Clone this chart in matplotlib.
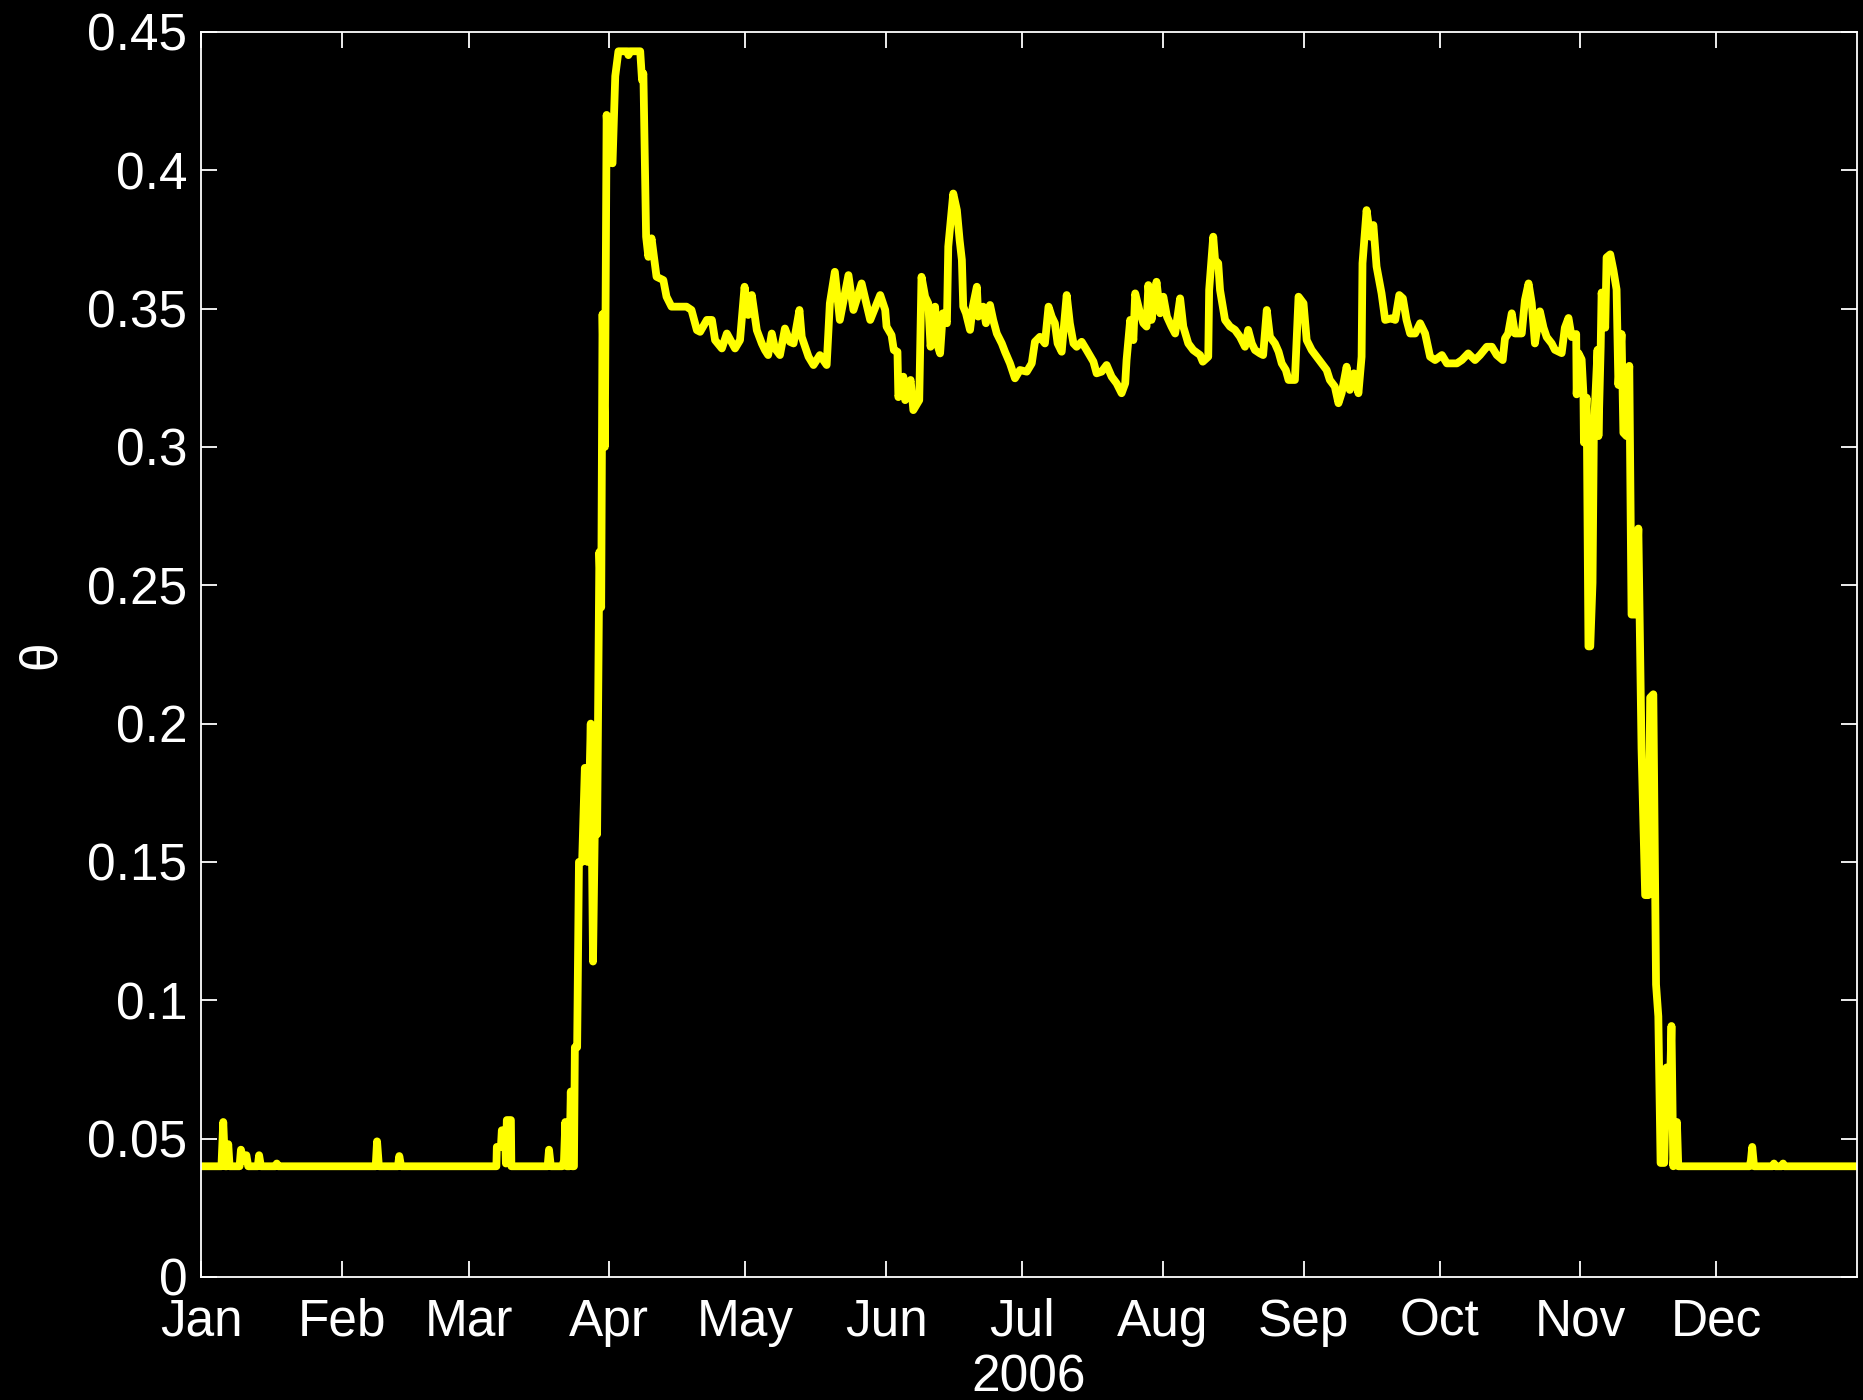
import numpy as np
import pandas as pd
import matplotlib
matplotlib.use("Agg")
import matplotlib.pyplot as plt

# Soil moisture (theta) through 2006; x is days since 1 Jan 2006
days = [
    0, 4.5, 4.9, 5.3, 5.7, 6.0, 6.3, 8.5, 8.8, 9.3, 10.0, 10.4, 12.5, 12.8, 13.2,
    16.4, 16.7, 17.0, 38.5, 38.8, 39.2, 43.4, 43.7, 44.1, 65.1, 65.2, 66.1, 66.3,
    67.0, 67.2, 67.4, 68.3, 68.4, 76.4, 76.7, 77.1, 79.6, 80.0, 80.3, 80.6, 81.2,
    81.5, 81.8, 82.2, 82.4,
    82.9, 83.3, 84.0, 84.6, 85.2, 85.9, 86.4, 86.9, 87.3, 87.8, 88.2, 88.5, 89.0,
    89.4, 90.0, 90.7, 91.3, 92.0, 94.0, 94.2, 94.6, 96.8, 97.2, 97.5, 98.1, 98.6,
    99.3, 100.4, 101.9, 102.6, 103.7, 107.0, 108.1, 109.3, 110.0, 111.5, 112.6,
    113.3, 114.8, 115.9, 117.7, 118.8, 119.8, 120.6, 121.4, 122.5, 123.6, 124.3,
    125.0, 125.8, 126.5, 127.6, 128.7, 129.8, 130.6, 131.9, 132.4, 133.9, 135.0,
    136.4, 137.9, 138.6, 139.7, 140.8, 142.7, 143.8, 145.6, 147.5, 149.7,
    150.8, 151.1, 152.2, 152.7, 153.5, 153.7, 154.8, 155.2, 156.4, 157.0, 158.3,
    158.8, 159.6, 160.3, 160.8, 161.8, 162.2, 162.9, 163.5, 164.4, 164.7, 165.8,
    166.6, 167.2, 167.7, 168.0, 168.6, 169.5, 170.1, 171.0, 171.3, 172.4, 173.0,
    173.9, 174.6, 175.4, 176.5, 177.2, 178.3, 179.4, 180.5, 182.0, 183.1, 183.8,
    184.9, 186.0, 186.8, 187.5, 188.2, 188.8, 189.7, 190.8, 191.5, 192.3, 193.0,
    194.1, 195.2, 196.7, 197.4, 198.5, 199.6, 200.7, 201.8, 202.9, 203.7, 204.0,
    204.8, 205.5, 205.9, 206.8, 207.7, 208.4, 208.8, 209.5, 210.6, 211.4, 212.1,
    212.9, 213.9, 214.7, 215.8, 216.5, 217.6, 218.7, 220.2, 220.8, 222.0, 222.2,
    223.1, 223.5, 224.2, 224.6, 225.7, 226.8, 227.9, 229.0, 230.1, 230.8, 231.6,
    232.3, 233.4, 234.1, 234.9, 235.6, 236.7, 237.5, 238.2, 239.1, 239.7, 241.1,
    241.9, 243.0, 243.7, 244.8, 245.9, 247.0, 248.1, 248.8, 249.9, 250.7, 251.4,
    252.5, 253.2, 254.1, 255.1, 255.8, 256.0, 256.9, 257.7, 258.4, 259.1, 260.2,
    261.0, 262.4, 263.2, 264.1, 264.9, 265.7, 266.5, 267.6, 268.7, 269.8, 270.9,
    272.0, 273.5, 274.6, 276.8, 277.9, 279.3, 280.8, 281.9, 283.4, 284.5, 285.6,
    286.9, 287.4, 288.1, 288.9, 289.6, 291.1, 291.8, 292.6, 293.3, 294.0,
    295.1, 295.9, 296.6, 297.7, 298.4, 299.9, 300.6, 301.4, 302.1, 303.1, 303.2,
    303.6, 304.3, 304.7, 304.8, 305.4, 305.8, 306.2, 306.7, 307.0, 307.8, 308.0,
    308.5, 308.7, 309.5, 309.8, 310.6, 311.3, 312.0, 312.4, 313.1, 313.5, 314.2,
    314.8, 315.3, 316.1, 316.8, 317.5, 318.3, 319.0, 319.4, 320.1, 320.7, 321.2,
    321.7, 322.5, 323.0, 323.6, 324.1, 324.5, 325.3, 325.6, 341.3, 341.6, 341.9,
    342.3, 346.4, 346.7, 347.0, 348.4, 348.7, 349.0, 365.0,
]
theta = [
    0.04, 0.04, 0.056, 0.04, 0.04, 0.048, 0.04, 0.04, 0.046, 0.042, 0.044, 0.04,
    0.04, 0.044, 0.04, 0.04, 0.041, 0.04, 0.04, 0.049, 0.04, 0.04, 0.0437, 0.04,
    0.04, 0.047, 0.047, 0.053, 0.053, 0.041, 0.0567, 0.0567, 0.04,
    0.04, 0.046, 0.04, 0.04, 0.042, 0.056, 0.04,
    0.04, 0.067, 0.04, 0.04, 0.083, 0.083, 0.15, 0.15, 0.184, 0.15, 0.20, 0.114,
    0.175, 0.16, 0.262, 0.242, 0.348, 0.30, 0.42, 0.403, 0.4025, 0.434, 0.443,
    0.443, 0.4416, 0.443, 0.443, 0.4326, 0.435, 0.376, 0.3687, 0.3754, 0.3615,
    0.3603, 0.3543, 0.3507, 0.3507, 0.3495, 0.3422, 0.3416, 0.3459, 0.3459,
    0.3386, 0.3356, 0.341, 0.3356, 0.3386, 0.3579, 0.3477, 0.3549, 0.3422,
    0.3374, 0.335, 0.3332, 0.341, 0.3356, 0.3332, 0.3428, 0.338, 0.3374, 0.3495,
    0.3398, 0.3326, 0.3296, 0.3332, 0.3296, 0.3519, 0.3633, 0.3459, 0.3621,
    0.3495, 0.3591, 0.3459, 0.3549,
    0.3495, 0.3435, 0.3404, 0.335, 0.3344, 0.318, 0.3254, 0.3169, 0.3242, 0.3133,
    0.3169, 0.3615, 0.3543, 0.3519, 0.3362, 0.3507, 0.3374, 0.3338, 0.3483,
    0.3447, 0.3724, 0.3916, 0.3856, 0.3748, 0.3676, 0.3507, 0.3483, 0.3423,
    0.3507, 0.3579, 0.3471, 0.3507, 0.3447, 0.3513, 0.3459, 0.341, 0.3374,
    0.3344, 0.3302, 0.3248, 0.3278, 0.3272, 0.3302, 0.338, 0.3398, 0.3374,
    0.3507, 0.3471, 0.3447, 0.3374, 0.3344, 0.3549, 0.3447, 0.3374, 0.3362,
    0.338, 0.335, 0.3308, 0.3266, 0.3272, 0.3296, 0.3254, 0.323, 0.3194, 0.323,
    0.3314, 0.3459, 0.3386, 0.3555, 0.3495, 0.3447, 0.3435, 0.3585, 0.3459,
    0.3597, 0.3483, 0.3543, 0.3471, 0.3435, 0.341, 0.3537, 0.3435, 0.3374,
    0.335, 0.3332, 0.3308, 0.3326, 0.3567, 0.376,
    0.3676, 0.3664, 0.3567, 0.3459, 0.3435, 0.3423, 0.3398, 0.3362, 0.3423,
    0.3374, 0.335, 0.3338, 0.3332, 0.3495, 0.3398, 0.3374, 0.3344, 0.3302,
    0.3278, 0.3242, 0.3242, 0.3543, 0.3519, 0.3386, 0.335, 0.3326, 0.3302,
    0.3278, 0.3242, 0.3218, 0.3158, 0.3194, 0.329, 0.3206, 0.3266, 0.3194,
    0.3326, 0.3664, 0.3856, 0.376, 0.3802, 0.3652, 0.3555, 0.3459, 0.3465,
    0.3459, 0.3549, 0.3537, 0.3459, 0.341, 0.341, 0.3447, 0.341, 0.3326, 0.3314,
    0.3332, 0.3302, 0.3302, 0.3314, 0.3338, 0.3314, 0.3332, 0.3362, 0.3362,
    0.3332, 0.3314, 0.3392, 0.341, 0.3483, 0.341, 0.341, 0.3531, 0.3591, 0.3519,
    0.3374,
    0.349, 0.3431, 0.3397, 0.3374, 0.3351, 0.3339, 0.3431, 0.3466, 0.3397,
    0.3408, 0.319, 0.3339, 0.3316, 0.319, 0.3016, 0.3178, 0.2279, 0.2279, 0.2509,
    0.3062, 0.3351, 0.3039, 0.3362, 0.3558, 0.3431, 0.3685, 0.3696, 0.3639,
    0.3569, 0.3224, 0.3408, 0.3051, 0.3039, 0.3293, 0.2394, 0.2394, 0.2705,
    0.191, 0.138, 0.138, 0.2094, 0.2106, 0.1057, 0.0942, 0.0412, 0.0412, 0.0757,
    0.0573, 0.0907, 0.04, 0.056, 0.04, 0.04, 0.042, 0.047, 0.04, 0.04, 0.041,
    0.04, 0.04, 0.041, 0.04, 0.04,
]

year_start = "2006-01-01"
month_labels = ["Jan", "Feb", "Mar", "Apr", "May", "Jun",
                "Jul", "Aug", "Sep", "Oct", "Nov", "Dec"]
y_ticks = [0, 0.05, 0.1, 0.15, 0.2, 0.25, 0.3, 0.35, 0.4, 0.45]
y_tick_labels = ["0", "0.05", "0.1", "0.15", "0.2", "0.25", "0.3", "0.35", "0.4", "0.45"]

plt.rcParams["font.family"] = ["Liberation Sans", "DejaVu Sans"]

t0 = pd.Timestamp(year_start)
times = t0 + pd.to_timedelta(np.asarray(days), unit="D")
month_starts = pd.date_range(year_start, periods=12, freq="MS")

fig = plt.figure(figsize=(18.63, 14.0), dpi=100, facecolor="black")
ax = fig.add_axes([0.1079, 0.0879, 0.8889, 0.8893], facecolor="black")

ax.plot(times, theta, color=(1.0, 1.0, 0.0), linewidth=5.6,
        solid_joinstyle="round", solid_capstyle="round")

ax.set_xlim(t0, t0 + pd.Timedelta(days=365))
ax.set_ylim(0, 0.45)
ax.set_xticks(month_starts)
ax.set_xticklabels(month_labels)
ax.set_yticks(y_ticks)
ax.set_yticklabels(y_tick_labels)

for side in ax.spines.values():
    side.set_color("white")
    side.set_linewidth(1.3)

ax.tick_params(axis="both", which="major", direction="in", length=11.5,
               width=1.3, color="white", labelcolor="white", labelsize=37,
               top=True, right=True)
ax.tick_params(axis="y", pad=10)
ax.tick_params(axis="x", pad=15)

ax.set_xlabel("2006", color="white", fontsize=37, labelpad=5)
ax.set_ylabel("θ", color="white", fontsize=37, labelpad=15)

fig.savefig("out.png", dpi=100, facecolor="black")
